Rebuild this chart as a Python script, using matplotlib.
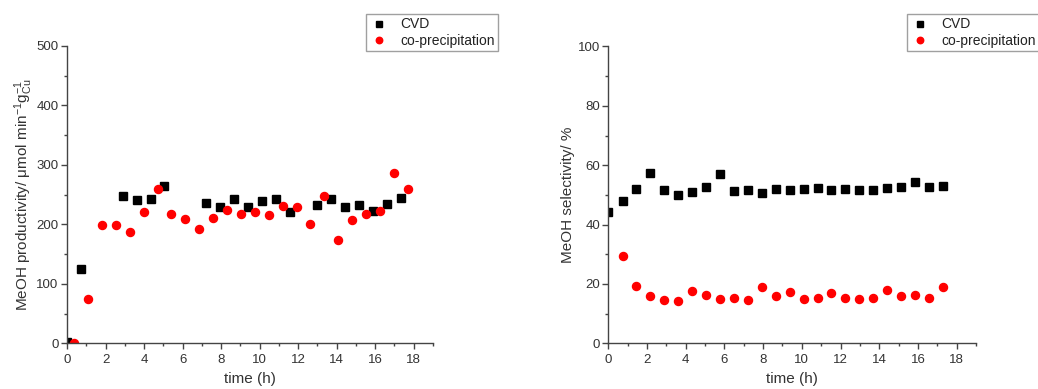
import matplotlib
matplotlib.use("Agg")
import matplotlib.pyplot as plt
from matplotlib.ticker import MultipleLocator

plt.rcParams['font.family'] = ['Liberation Sans', 'DejaVu Sans']
plt.rcParams['mathtext.fontset'] = 'custom'
plt.rcParams['mathtext.rm'] = 'Liberation Sans'
plt.rcParams['mathtext.it'] = 'Liberation Sans:italic'
plt.rcParams['mathtext.sf'] = 'Liberation Sans'

# --- MeOH productivity (µmol min^-1 g_Cu^-1) ---
prod_cvd_t = [0.0, 0.74, 2.89, 3.62, 4.34, 5.06, 7.22, 7.94, 8.66, 9.39, 10.11,
              10.83, 11.56, 13.0, 13.72, 14.43, 15.16, 15.88, 16.6, 17.33]
prod_cvd = [3, 125, 247, 241, 243, 264, 236, 230, 243, 229, 239,
            243, 221, 233, 243, 229, 233, 222, 234, 245]

prod_cop_t = [0.38, 1.08, 1.81, 2.53, 3.26, 3.98, 4.70, 5.42, 6.15, 6.87, 7.58,
              8.32, 9.02, 9.75, 10.47, 11.19, 11.92, 12.64, 13.35, 14.07, 14.80,
              15.52, 16.24, 16.96, 17.69]
prod_cop = [1, 75, 199, 199, 187, 221, 259, 217, 209, 192, 211,
            225, 217, 221, 216, 231, 229, 200, 248, 174, 207,
            217, 222, 287, 259]

# --- MeOH selectivity (%) ---
sel_cvd_t = [0.0, 0.74, 1.44, 2.17, 2.89, 3.61, 4.33, 5.05, 5.76, 6.48, 7.2,
             7.93, 8.65, 9.37, 10.1, 10.81, 11.52, 12.24, 12.96, 13.68, 14.41,
             15.13, 15.85, 16.57, 17.29]
sel_cvd = [44.3, 47.8, 52.0, 57.4, 51.5, 50.1, 51.1, 52.6, 57.1, 51.2, 51.8,
           50.6, 51.9, 51.7, 51.9, 52.4, 51.5, 51.9, 51.8, 51.8, 52.2,
           52.6, 54.4, 52.6, 53.1]

sel_cop_t = [0.74, 1.44, 2.17, 2.89, 3.61, 4.33, 5.05, 5.76, 6.48, 7.2, 7.93,
             8.65, 9.37, 10.1, 10.81, 11.52, 12.24, 12.96, 13.68, 14.41, 15.13,
             15.85, 16.57, 17.29]
sel_cop = [29.3, 19.4, 16.1, 14.6, 14.3, 17.6, 16.2, 14.9, 15.1, 14.5, 19.1,
           16.0, 17.2, 14.8, 15.3, 17.1, 15.4, 14.9, 15.3, 17.8, 15.8,
           16.2, 15.4, 18.9]

series_labels = ['CVD', 'co-precipitation']
x_ticks = [0, 2, 4, 6, 8, 10, 12, 14, 16, 18]

W, H = 1038, 389
fig = plt.figure(figsize=(W / 100, H / 100), dpi=100)

axis_color = '#444444'
text_color = '#333333'


def frac_box(x0, x1, ytop, ybot):
    return [x0 / W, 1 - ybot / H, (x1 - x0) / W, (ybot - ytop) / H]


ax1 = fig.add_axes(frac_box(67, 433, 46, 343.3))
ax2 = fig.add_axes(frac_box(608.3, 976, 46.5, 343.3))


def style(ax, ymax, ymajor, yminor):
    ax.set_xlim(0, 19)
    ax.set_ylim(0, ymax)
    ax.set_xticks(x_ticks)
    ax.xaxis.set_minor_locator(MultipleLocator(1))
    ax.yaxis.set_major_locator(MultipleLocator(ymajor))
    ax.yaxis.set_minor_locator(MultipleLocator(yminor))
    for s in ('top', 'right'):
        ax.spines[s].set_visible(False)
    for s in ('left', 'bottom'):
        ax.spines[s].set_color(axis_color)
        ax.spines[s].set_linewidth(1.0)
    ax.tick_params(which='major', direction='out', length=4, width=1.0,
                   color=axis_color, labelsize=9.5, labelcolor=text_color)
    ax.tick_params(axis='x', which='major', pad=4)
    ax.tick_params(axis='y', which='major', pad=2)
    ax.tick_params(which='minor', direction='out', length=2.5, width=1.0,
                   color=axis_color)
    ax.set_xlabel('time (h)', fontsize=11, color=text_color, labelpad=4)


ms_sq = 5.4
ms_ci = 5.8

ax1.plot(prod_cvd_t, prod_cvd, ls='none', marker='s', ms=ms_sq, color='black',
         label=series_labels[0])
ax1.plot(prod_cop_t, prod_cop, ls='none', marker='o', ms=ms_ci, color='red',
         mec='red', label=series_labels[1])
style(ax1, 500, 100, 50)
ax1.set_ylabel(r'MeOH productivity/ $\mathrm{\mu}$mol min$^{\mathregular{-1}}$g$_{\mathregular{Cu}}^{\mathregular{-1}}$',
               fontsize=11, color=text_color, labelpad=1)

ax2.plot(sel_cvd_t, sel_cvd, ls='none', marker='s', ms=ms_sq, color='black',
         label=series_labels[0])
ax2.plot(sel_cop_t, sel_cop, ls='none', marker='o', ms=ms_ci, color='red',
         mec='red', label=series_labels[1])
style(ax2, 100, 20, 10)
ax2.set_ylabel('MeOH selectivity/ %', fontsize=11, color=text_color, labelpad=2)


def add_legend(ax, x_left, y_top):
    leg = ax.legend(loc='upper left', bbox_to_anchor=(x_left / W, 1 - y_top / H),
                    bbox_transform=fig.transFigure, frameon=True, fancybox=False,
                    fontsize=10, markerscale=0.8, handlelength=1.4,
                    handletextpad=0.8, borderpad=0.25, labelspacing=0.15,
                    borderaxespad=0)
    leg.get_frame().set_edgecolor('#888888')
    leg.get_frame().set_linewidth(1.0)
    for t in leg.get_texts():
        t.set_color('#222222')
    return leg


add_legend(ax1, 366, 14)
add_legend(ax2, 907, 14)

fig.savefig('out.png', dpi=100)
